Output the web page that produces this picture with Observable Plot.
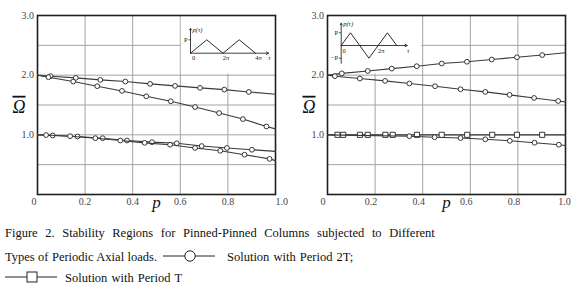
<!DOCTYPE html>
<html><head><meta charset="utf-8">
<script src="https://cdn.jsdelivr.net/npm/d3@7"></script>
<script src="https://cdn.jsdelivr.net/npm/@observablehq/plot@0.6"></script>
<style>
body{margin:0;background:#fff;}
#fig{position:relative;width:580px;height:289px;overflow:hidden;font-family:"Liberation Serif","Times New Roman",serif;}
.cap{position:absolute;font-size:12.5px;line-height:15px;color:#111;white-space:nowrap;}
svg text{font-family:"Liberation Serif","Times New Roman",serif;}
</style></head><body><div id="fig"></div>
<script>
// ---------- data ----------
const xTicks = [0, 0.2, 0.4, 0.6, 0.8, 1.0];
const yTicks = [1, 2, 3];
const gridP = [0.2, 0.4, 0.6, 0.8];
const gridOmega = [0.5, 1.0, 1.5, 2.0, 2.5];

// left panel (load p(τ) >= 0)
const leftUpper = [[0,2.0],[0.055,1.983],[0.161,1.955],[0.264,1.921],[0.369,1.893],[0.473,1.854],[0.578,1.82],[0.683,1.787],[0.785,1.758],[0.888,1.719],[1.0,1.68]];
const leftMiddle = [[0,2.0],[0.046,1.966],[0.15,1.893],[0.251,1.815],[0.355,1.736],[0.457,1.646],[0.56,1.562],[0.662,1.466],[0.763,1.365],[0.863,1.264],[0.962,1.14],[1.0,1.10]];
const leftLowA = [[0,1.0],[0.064,0.989],[0.168,0.972],[0.274,0.944],[0.376,0.905],[0.481,0.877],[0.585,0.858],[0.69,0.812],[0.796,0.78],[0.901,0.75],[1.0,0.722]];
const leftLowB = [[0,1.0],[0.036,0.996],[0.137,0.977],[0.243,0.944],[0.348,0.905],[0.45,0.866],[0.557,0.834],[0.662,0.78],[0.768,0.733],[0.87,0.667],[0.975,0.597],[1.0,0.568]];

// right panel (alternating load)
const rightUpper = [[0,2.0],[0.06,2.03],[0.169,2.07],[0.27,2.11],[0.375,2.15],[0.48,2.195],[0.586,2.225],[0.69,2.262],[0.796,2.3],[0.902,2.337],[1.0,2.376]];
const rightMiddle = [[0,2.0],[0.031,1.983],[0.136,1.944],[0.242,1.904],[0.344,1.86],[0.452,1.815],[0.559,1.764],[0.663,1.72],[0.765,1.67],[0.868,1.618],[0.969,1.567],[1.0,1.55]];
const rightPeriodT = [[0,1],[0.042,1],[0.066,1],[0.136,1],[0.169,1],[0.243,1],[0.274,1],[0.376,1],[0.48,1],[0.587,1],[0.692,1],[0.796,1],[0.902,1],[1.0,1]];
const rightLow = [[0,1.0],[0.344,0.977],[0.45,0.96],[0.559,0.946],[0.663,0.925],[0.766,0.9],[0.87,0.868],[0.972,0.835],[1.0,0.82]];

// inset schematic load histories (τ in units of π, load in units of P)
const leftWaveTau = [0, 1, 2, 3, 4];
const leftWaveLoad = [0, 1, 0, 1, 0];
const rightWaveTau = [0, 0.5, 1.5, 2.5, 3];
const rightWaveLoad = [0, 1, -1, 1, 0];
const leftInsetArea = {p: [0.6, 1.0], omega: [2.0, 3.0]};
const rightInsetArea = {p: [0.0, 0.4], omega: [2.0, 3.0]};

// ---------- drawing ----------
const fig = document.getElementById("fig");
const SERIF = "Liberation Serif";
const fmtTick = d => d === 0 ? "0" : d.toFixed(1);
const ink = "#2a2a2a";

function panel(cfg) {
  const marks = [
    Plot.ruleY(gridOmega, {stroke: "#a3a3a3", strokeWidth: 1}),
    Plot.ruleX(gridP, {stroke: "#a3a3a3", strokeWidth: 1}),
    Plot.rect([cfg.inset], {x1: d => d.p[0], x2: d => d.p[1], y1: d => d.omega[0], y2: d => d.omega[1],
      fill: "white", insetLeft: cfg.insetLeft, insetRight: cfg.insetRight, insetBottom: 1}),
    Plot.frame({stroke: "#1e1e1e", strokeWidth: 1.6})
  ];
  for (const s of cfg.series) {
    marks.push(Plot.line(s.data, {x: d => d[0], y: d => d[1], stroke: "#3a3a3a", strokeWidth: 1.1}));
    marks.push(Plot.dot(s.data.slice(1, -1), {x: d => d[0], y: d => d[1], symbol: s.symbol,
      r: s.symbol === "square" ? 2.9 : 2.4, fill: "white", stroke: "#222", strokeWidth: 0.9}));
  }
  const tk = {y: 0, text: fmtTick, dy: 7, fontSize: 10, fill: "#444", fontFamily: SERIF};
  marks.push(
    Plot.text(xTicks.slice(0, 1), {...tk, x: d => d, textAnchor: "end", dx: cfg.firstDx}),
    Plot.text(xTicks.slice(1, -1), {...tk, x: d => d, dx: cfg.midDx}),
    Plot.text(xTicks.slice(-1), {...tk, x: d => d, textAnchor: cfg.lastAnchor, dx: cfg.lastDx}),
    Plot.text(yTicks, {x: 0, y: d => d, text: d => d.toFixed(1), textAnchor: "end", dx: -3.5, fontSize: 10, fill: "#444", fontFamily: SERIF}),
    Plot.text(["p"], {frameAnchor: "bottom", text: d => d, dy: 13, fontSize: 17, fontStyle: "italic", fill: "#111", fontFamily: SERIF}),
    Plot.text(["Ω"], {frameAnchor: "left", text: d => d, dx: -25, dy: 2, fontSize: 18, fontStyle: "italic", fill: "#111", fontFamily: SERIF})
  );
  const svg = Plot.plot({
    width: 290, height: 220,
    marginLeft: 37, marginRight: 15, marginTop: 15, marginBottom: 26,
    x: {domain: [0, 1], axis: null},
    y: {domain: [0, 3], axis: null},
    style: {background: "transparent"},
    marks
  });
  d3.select(svg).selectAll("text").filter(function() { return this.textContent === "Ω"; })
    .style("text-decoration", "overline");
  svg.style.position = "absolute";
  svg.style.left = cfg.left + "px";
  svg.style.top = "0px";
  fig.appendChild(svg);
}

function insetPlot(cfg) {
  const lab = {fontSize: 6.5, fill: "#222", fontFamily: SERIF};
  const wave = cfg.tau.map((t, i) => ({t, v: cfg.load[i]}));
  const svg = Plot.plot({
    width: cfg.w, height: cfg.h, margin: 0,
    x: {domain: cfg.xd, range: cfg.xr, axis: null},
    y: {domain: cfg.yd, range: cfg.yr, axis: null},
    style: {background: "transparent", overflow: "visible"},
    marks: [
      Plot.arrow([0], {x1: 0, y1: 0, x2: cfg.tauEnd, y2: 0, stroke: ink, strokeWidth: 0.9, headLength: 4}),
      Plot.arrow([0], {x1: 0, y1: cfg.pBottom, x2: 0, y2: cfg.pTop, stroke: ink, strokeWidth: 0.9, headLength: 3}),
      Plot.line(wave, {x: "t", y: "v", stroke: ink, strokeWidth: 1}),
      Plot.link(cfg.levels, {x1: -0.12, x2: 0, y1: d => d, y2: d => d, stroke: ink, strokeWidth: 0.8}),
      Plot.text(cfg.levels, {x: 0, y: d => d, text: d => d > 0 ? "P" : "−P", textAnchor: "end", dx: -3, ...lab}),
      Plot.text(cfg.tauLabels, {x: d => d.t, y: 0, text: d => d.s, dx: 3, dy: 5, ...lab}),
      Plot.text(["τ"], {x: cfg.tauEnd, y: 0, text: d => d, dx: 1, dy: 5, ...lab, fontStyle: "italic"}),
      Plot.text(["p(τ)"], {x: 0, y: cfg.pTop, text: d => d, textAnchor: "start", dx: 2, dy: 1, ...lab, fontStyle: "italic"})
    ]
  });
  svg.style.position = "absolute";
  svg.style.left = cfg.left + "px";
  svg.style.top = cfg.top + "px";
  fig.appendChild(svg);
}

panel({left: 0, inset: leftInsetArea, insetLeft: 1, insetRight: 0,
  firstDx: -1, midDx: 0, lastAnchor: "start", lastDx: 0,
  series: [{data: leftUpper, symbol: "circle"}, {data: leftMiddle, symbol: "circle"},
           {data: leftLowA, symbol: "circle"}, {data: leftLowB, symbol: "circle"}]});
panel({left: 290, inset: rightInsetArea, insetLeft: 0, insetRight: 1,
  firstDx: -2, midDx: -4, lastAnchor: "middle", lastDx: -1,
  series: [{data: rightUpper, symbol: "circle"}, {data: rightMiddle, symbol: "circle"},
           {data: rightPeriodT, symbol: "square"}, {data: rightLow, symbol: "circle"}]});

insetPlot({left: 180, top: 18, w: 95, h: 46, xd: [0, 4], xr: [10, 75], yd: [0, 1], yr: [34.7, 21.3],
  tau: leftWaveTau, load: leftWaveLoad, tauEnd: 4.8, pBottom: 0, pTop: 1.85, levels: [1],
  tauLabels: [{t: 0, s: "0"}, {t: 2, s: "2π"}, {t: 4, s: "4π"}]});
insetPlot({left: 326, top: 15, w: 95, h: 52, xd: [0, 2], xr: [14.7, 51.7], yd: [-1, 1], yr: [42.7, 17.3],
  tau: rightWaveTau, load: rightWaveLoad, tauEnd: 3.57, pBottom: -1.4, pTop: 1.75, levels: [1, -1],
  tauLabels: [{t: 0, s: "0"}, {t: 2, s: "2π"}]});

// ---------- caption with legend ----------
function cap(text, left, top, ws) {
  const d = document.createElement("div");
  d.className = "cap"; d.textContent = text;
  d.style.left = left + "px"; d.style.top = top + "px";
  if (ws) d.style.wordSpacing = ws + "px";
  fig.appendChild(d);
}
function swatch(left, top, kind) {
  const ns = "http://www.w3.org/2000/svg";
  const s = document.createElementNS(ns, "svg");
  s.setAttribute("width", 54); s.setAttribute("height", 14);
  s.style.position = "absolute"; s.style.left = left + "px"; s.style.top = top + "px";
  const ln = document.createElementNS(ns, "line");
  ln.setAttribute("x1", 0); ln.setAttribute("x2", 52); ln.setAttribute("y1", 7); ln.setAttribute("y2", 7);
  ln.setAttribute("stroke", "#222"); ln.setAttribute("stroke-width", 1);
  s.appendChild(ln);
  let m;
  if (kind === "circle") {
    m = document.createElementNS(ns, "circle");
    m.setAttribute("cx", 27); m.setAttribute("cy", 7); m.setAttribute("r", 5.2);
  } else {
    m = document.createElementNS(ns, "rect");
    m.setAttribute("x", 22); m.setAttribute("y", 2); m.setAttribute("width", 10); m.setAttribute("height", 10);
  }
  m.setAttribute("fill", "white"); m.setAttribute("stroke", "#222"); m.setAttribute("stroke-width", 1);
  s.appendChild(m);
  fig.appendChild(s);
}
cap("Figure 2. Stability Regions for Pinned-Pinned Columns subjected to Different", 5, 226, 4.5);
cap("Types of Periodic Axial loads.", 5, 250, 0.3);
swatch(163, 249, "circle");
cap("Solution with Period 2T;", 227, 250, 1);
swatch(5, 270, "square");
cap("Solution with Period T", 65, 271, 1);
</script></body></html>
